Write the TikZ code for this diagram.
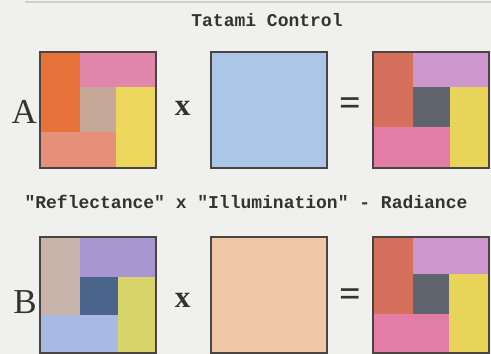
\documentclass[tikz,border=0pt]{standalone}
\usepackage{fontspec}
\setmainfont{Liberation Serif}
\setmonofont{Liberation Mono}
\usepackage{tikz}
\usepackage{xcolor}
\definecolor{bg_gray}{HTML}{F0F0EE}
\definecolor{rule_gray}{HTML}{CFCFCD}
\definecolor{frame_gray}{HTML}{4A4542}
\definecolor{text_gray}{HTML}{333333}
% reflectance A
\definecolor{ra_left}{HTML}{E8733A}
\definecolor{ra_top}{HTML}{E287AC}
\definecolor{ra_mid}{HTML}{C6A898}
\definecolor{ra_right}{HTML}{ECD65C}
\definecolor{ra_bottom}{HTML}{E6907A}
% reflectance B
\definecolor{rb_left}{HTML}{C8B4AA}
\definecolor{rb_top}{HTML}{A896D2}
\definecolor{rb_mid}{HTML}{4B648C}
\definecolor{rb_right}{HTML}{D7D469}
\definecolor{rb_bottom}{HTML}{A8B9E6}
% illumination
\definecolor{il_blue}{HTML}{ACC6E8}
\definecolor{il_peach}{HTML}{F0C8A8}
% radiance
\definecolor{rd_left}{HTML}{D4705C}
\definecolor{rd_top}{HTML}{CD96CD}
\definecolor{rd_mid}{HTML}{5F646E}
\definecolor{rd_right}{HTML}{E8D458}
\definecolor{rd_bottom}{HTML}{E47DA5}
\usetikzlibrary{positioning,calc}
\tikzset{SQUARE/.style={rectangle,minimum width=116pt,minimum height=116pt,inner sep=0pt,outer sep=0pt}}
\tikzset{FRAME/.style={draw=frame_gray,line width=1.2pt}}
\tikzset{CAPTION/.style={font=\ttfamily\bfseries\fontsize{18}{18}\selectfont,text=text_gray,inner sep=0pt}}
\tikzset{LETTER/.style={font=\fontsize{35}{35}\selectfont,text=text_gray,inner sep=0pt}}
\tikzset{OPERATOR/.style={font=\bfseries\fontsize{31}{31}\selectfont,text=text_gray,inner sep=0pt}}
\tikzset{EQUALS/.style={font=\bfseries\fontsize{38}{38}\selectfont,text=text_gray,inner sep=0pt}}

\begin{document}
\begin{tikzpicture}[x=1pt,y=-1pt]

\useasboundingbox (0,0) rectangle (491,354);
\fill[bg_gray] (0,0) rectangle (491,354);
\draw[rule_gray, line width=1.5pt] (25,2) -- (491,2);

\node[CAPTION] (n_title) at (267,20) {Tatami Control};

% row A
\node[SQUARE] (n_refl_a) at (98,110) {};
\node[SQUARE, FRAME, fill=il_blue, right=55pt of n_refl_a] (n_illum_a) {};
\node[SQUARE, right=46pt of n_illum_a] (n_rad_a) {};

\begin{scope}[shift={(n_refl_a.north west)}]
    \fill[ra_left] (0,0) rectangle (40,80);
    \fill[ra_top] (40,0) rectangle (116,35);
    \fill[ra_mid] (40,35) rectangle (76,80);
    \fill[ra_right] (76,35) rectangle (116,116);
    \fill[ra_bottom] (0,80) rectangle (76,116);
\end{scope}
\draw[FRAME] (n_refl_a.north west) rectangle (n_refl_a.south east);

\begin{scope}[shift={(n_rad_a.north west)}]
    \fill[rd_left] (0,0) rectangle (40,75);
    \fill[rd_top] (40,0) rectangle (116,35);
    \fill[rd_mid] (40,35) rectangle (77,75);
    \fill[rd_right] (77,35) rectangle (116,116);
    \fill[rd_bottom] (0,75) rectangle (77,116);
\end{scope}
\draw[FRAME] (n_rad_a.north west) rectangle (n_rad_a.south east);

\node[LETTER, anchor=base east] (n_label_a) at ($(n_refl_a.west)+(-3,13)$) {A};
\node[OPERATOR] (n_times_a) at ($(n_refl_a.east)!0.5!(n_illum_a.west)+(-1,-2)$) {x};
\node[EQUALS] (n_equals_a) at ($(n_illum_a.east)!0.5!(n_rad_a.west)+(0,-3)$) {=};

\node[CAPTION] (n_relation) at (246,202) {"Reflectance" x "Illumination" - Radiance};

% row B
\node[SQUARE, below=69pt of n_refl_a] (n_refl_b) {};
\node[SQUARE, FRAME, fill=il_peach, right=55pt of n_refl_b] (n_illum_b) {};
\node[SQUARE, right=46pt of n_illum_b] (n_rad_b) {};

\begin{scope}[shift={(n_refl_b.north west)}]
    \fill[rb_left] (0,0) rectangle (40,78);
    \fill[rb_top] (40,0) rectangle (116,40);
    \fill[rb_mid] (40,40) rectangle (78,78);
    \fill[rb_right] (78,40) rectangle (116,116);
    \fill[rb_bottom] (0,78) rectangle (78,116);
\end{scope}
\draw[FRAME] (n_refl_b.north west) rectangle (n_refl_b.south east);

\begin{scope}[shift={(n_rad_b.north west)}]
    \fill[rd_left] (0,0) rectangle (40,77);
    \fill[rd_top] (40,0) rectangle (116,37);
    \fill[rd_mid] (40,37) rectangle (76,77);
    \fill[rd_right] (76,37) rectangle (116,116);
    \fill[rd_bottom] (0,77) rectangle (76,116);
\end{scope}
\draw[FRAME] (n_rad_b.north west) rectangle (n_rad_b.south east);

\node[LETTER, anchor=base east] (n_label_b) at ($(n_refl_b.west)+(-3,18)$) {B};
\node[OPERATOR] (n_times_b) at ($(n_refl_b.east)!0.5!(n_illum_b.west)+(-1,5)$) {x};
\node[EQUALS] (n_equals_b) at ($(n_illum_b.east)!0.5!(n_rad_b.west)+(0,3)$) {=};

\end{tikzpicture}
\end{document}
